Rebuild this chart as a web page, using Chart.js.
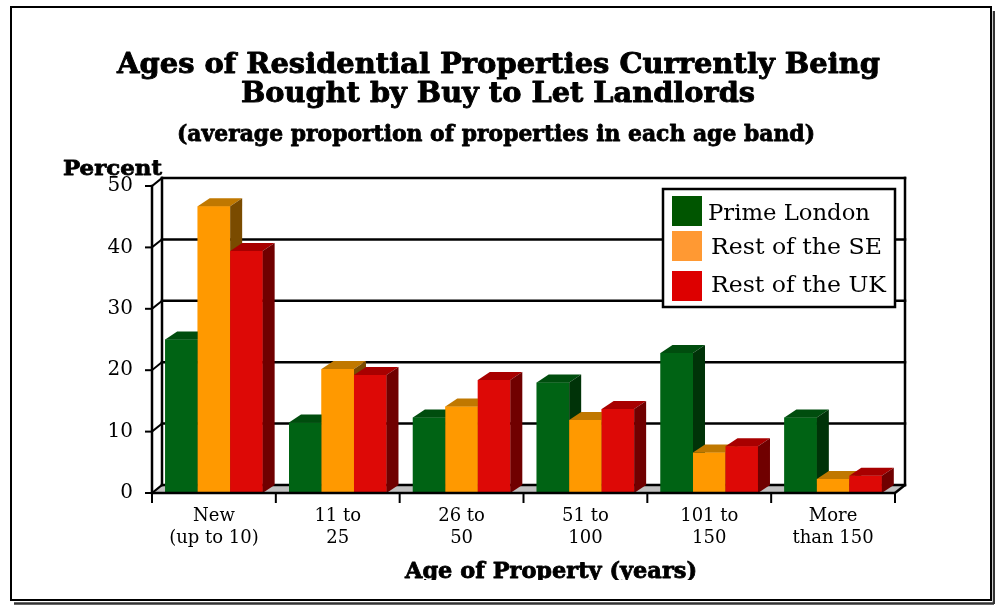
<!DOCTYPE html>
<html>
<head>
<meta charset="utf-8">
<script src="https://cdn.jsdelivr.net/npm/chart.js@4/dist/chart.umd.min.js"></script>
<style>
  html, body { margin: 0; padding: 0; background: #ffffff; }
  #wrap { width: 995px; height: 606px; position: relative; }
</style>
</head>
<body>
<div id="wrap"><canvas id="chart"></canvas></div>
<script>
// Age bands (x categories), two-line labels
const categories = [
  ["New", "(up to 10)"],
  ["11 to", "25"],
  ["26 to", "50"],
  ["51 to", "100"],
  ["101 to", "150"],
  ["More", "than 150"]
];

// Average proportion of properties in each age band (percent)
const primeLondon = [25.0, 11.5, 12.3, 18.0, 22.8, 12.3];
const restOfSE    = [46.7, 20.2, 14.1, 11.9, 6.6, 2.3];
const restOfUK    = [39.4, 19.2, 18.4, 13.7, 7.6, 2.8];

const seriesNames = ["Prime London", "Rest of the SE", "Rest of the UK"];
const yTicks = [0, 10, 20, 30, 40, 50];

const titleLines = [
  "Ages of Residential Properties Currently Being",
  "Bought by Buy to Let Landlords"
];
const subtitleText = "(average proportion of properties in each age band)";
const yAxisTitle = "Percent";
const xAxisTitle = "Age of Property (years)";

// Face colours for the 3-D columns: front, top, side
const faceColors = [
  { front: "#006314", top: "#004d0e", side: "#003308", key: "#005500" },
  { front: "#ff9900", top: "#c07800", side: "#7a4b00", key: "#ff9933" },
  { front: "#dd0906", top: "#a80000", side: "#700000", key: "#dd0000" }
];

const WALL_DX = 10, WALL_DY = -8;   // depth of the back wall
const BAR_DX = 12, BAR_DY = -8;     // depth of each column
const SERIF = '"DejaVu Serif", "Liberation Serif", serif';

// Draw text centred at cx, squeezed or stretched to a given width;
// heavy > 0 adds an outline to thicken bold headings.
function fitText(ctx, text, cx, baseline, font, width, heavy) {
  ctx.save();
  ctx.font = font;
  const w = ctx.measureText(text).width;
  ctx.translate(cx, baseline);
  ctx.scale(width / w, 1);
  ctx.textAlign = "center";
  ctx.textBaseline = "alphabetic";
  ctx.fillStyle = "#000";
  ctx.fillText(text, 0, 0);
  if (heavy) {
    ctx.lineWidth = heavy;
    ctx.strokeStyle = "#000";
    ctx.lineJoin = "round";
    ctx.strokeText(text, 0, 0);
  }
  ctx.restore();
}

function poly(ctx, pts, fill) {
  ctx.beginPath();
  ctx.moveTo(pts[0][0], pts[0][1]);
  for (let i = 1; i < pts.length; i++) ctx.lineTo(pts[i][0], pts[i][1]);
  ctx.closePath();
  ctx.fillStyle = fill;
  ctx.fill();
}

function line(ctx, x1, y1, x2, y2, w, color) {
  ctx.beginPath();
  ctx.moveTo(x1, y1);
  ctx.lineTo(x2, y2);
  ctx.lineWidth = w;
  ctx.strokeStyle = color || "#000";
  ctx.stroke();
}

const box3d = {
  id: "box3d",
  beforeDraw(chart) {
    const ctx = chart.ctx;
    ctx.save();
    ctx.fillStyle = "#ffffff";
    ctx.fillRect(0, 0, chart.width, chart.height);
    // outer frame with a drop shadow
    line(ctx, 994, 11, 994, 604, 2.5, "#333");
    line(ctx, 14, 603.5, 994, 603.5, 2.5, "#333");
    ctx.lineWidth = 2;
    ctx.strokeStyle = "#000";
    ctx.strokeRect(11, 7, 980, 593);
    ctx.restore();
  },
  beforeDatasetsDraw(chart) {
    const { ctx, chartArea: a, scales: { y } } = chart;
    ctx.save();
    ctx.lineCap = "square";
    const y0 = y.getPixelForValue(0), yTop = y.getPixelForValue(50);
    // floor
    poly(ctx, [[a.left, y0], [a.right, y0], [a.right + WALL_DX, y0 + WALL_DY], [a.left + WALL_DX, y0 + WALL_DY]], "#c0c0c0");
    // back wall gridlines and side wall diagonals
    yTicks.forEach(v => {
      const py = y.getPixelForValue(v);
      line(ctx, a.left + WALL_DX, py + WALL_DY, a.right + WALL_DX, py + WALL_DY, 2.5);
      line(ctx, a.left, py, a.left + WALL_DX, py + WALL_DY, 2);
      line(ctx, a.left - 6, py, a.left, py, 2);
    });
    // wall edges
    line(ctx, a.left + WALL_DX, yTop + WALL_DY, a.left + WALL_DX, y0 + WALL_DY, 2.5);
    line(ctx, a.right + WALL_DX, yTop + WALL_DY, a.right + WALL_DX, y0 + WALL_DY, 2.5);
    // front value axis
    line(ctx, a.left, yTop, a.left, y0, 2.5);
    ctx.restore();
  },
  afterDatasetsDraw(chart) {
    const { ctx, chartArea: a, scales: { y } } = chart;
    ctx.save();
    const n = chart.data.labels.length;
    for (let i = 0; i < n; i++) {
      chart.data.datasets.forEach((ds, d) => {
        const el = chart.getDatasetMeta(d).data[i];
        const p = el.getProps(["x", "y", "base", "width"], true);
        const l = p.x - p.width / 2, r = p.x + p.width / 2;
        const c = faceColors[d];
        poly(ctx, [[l, p.y], [r, p.y], [r, p.base], [l, p.base]], c.front);
        poly(ctx, [[l, p.y], [r, p.y], [r + BAR_DX, p.y + BAR_DY], [l + BAR_DX, p.y + BAR_DY]], c.top);
        poly(ctx, [[r, p.y], [r + BAR_DX, p.y + BAR_DY], [r + BAR_DX, p.base + BAR_DY], [r, p.base]], c.side);
      });
    }
    // front category axis with tick marks at the band boundaries
    const y0 = y.getPixelForValue(0);
    line(ctx, a.left, y0, a.right, y0, 2.5);
    line(ctx, a.right, y0, a.right + WALL_DX, y0 + WALL_DY, 2.5);
    const step = (a.right - a.left) / n;
    for (let i = 0; i <= n; i++) {
      const px = a.left + i * step;
      line(ctx, px, y0, px, y0 + 10, 2);
    }

    // legend box
    const lx = 663, ly = 189, lw = 232, lh = 118;
    ctx.fillStyle = "#fff";
    ctx.fillRect(lx, ly, lw, lh);
    ctx.lineWidth = 2.5;
    ctx.strokeStyle = "#000";
    ctx.strokeRect(lx, ly, lw, lh);
    const keyY = [196, 231, 271];
    const textBase = [220, 254, 292];
    const textLeft = [708, 711, 711];
    const textW = [162, 171, 175];
    chart.data.datasets.forEach((ds, d) => {
      ctx.fillStyle = faceColors[d].key;
      ctx.fillRect(672, keyY[d], 30, 30);
      fitText(ctx, ds.label, textLeft[d] + textW[d] / 2, textBase[d], "22px " + SERIF, textW[d]);
    });
    ctx.restore();
  },
  afterDraw(chart) {
    const ctx = chart.ctx;
    ctx.save();
    fitText(ctx, titleLines[0], 498.5, 73, "bold 28px " + SERIF, 763, 0.9);
    fitText(ctx, titleLines[1], 498, 102, "bold 28px " + SERIF, 514, 0.9);
    fitText(ctx, subtitleText, 496, 141, "bold 22px " + SERIF, 638, 0.8);
    fitText(ctx, yAxisTitle, 112.5, 175, "bold 21px " + SERIF, 99, 0.8);
    ctx.beginPath();
    ctx.rect(0, 0, chart.width, 580);
    ctx.clip();
    fitText(ctx, xAxisTitle, 551, 578, "bold 22px " + SERIF, 292, 0.8);
    ctx.restore();
  }
};

new Chart(document.getElementById("chart"), {
  type: "bar",
  data: {
    labels: categories,
    datasets: [
      { label: seriesNames[0], data: primeLondon, backgroundColor: faceColors[0].front },
      { label: seriesNames[1], data: restOfSE, backgroundColor: faceColors[1].front },
      { label: seriesNames[2], data: restOfUK, backgroundColor: faceColors[2].front }
    ]
  },
  options: {
    responsive: true,
    maintainAspectRatio: false,
    animation: false,
    datasets: { bar: { categoryPercentage: 0.787, barPercentage: 1.0 } },
    layout: { padding: { left: 92, right: 100, top: 186, bottom: 43 } },
    plugins: {
      legend: { display: false },
      title: { display: false },
      tooltip: { enabled: false }
    },
    scales: {
      x: {
        offset: true,
        grid: { display: false, drawTicks: false },
        border: { display: false },
        ticks: {
          color: "#000",
          padding: 12,
          maxRotation: 0,
          autoSkip: false,
          font: { family: SERIF, size: 18, lineHeight: 1.22 }
        },
        afterFit(s) { s.height = 70; }
      },
      y: {
        min: 0,
        max: 50,
        grid: { display: false, drawTicks: false },
        border: { display: false },
        ticks: {
          color: "#000",
          padding: 19,
          stepSize: 10,
          font: { family: SERIF, size: 20 }
        },
        afterFit(s) { s.width = 60; }
      }
    }
  },
  plugins: [box3d]
});
</script>
</body>
</html>
